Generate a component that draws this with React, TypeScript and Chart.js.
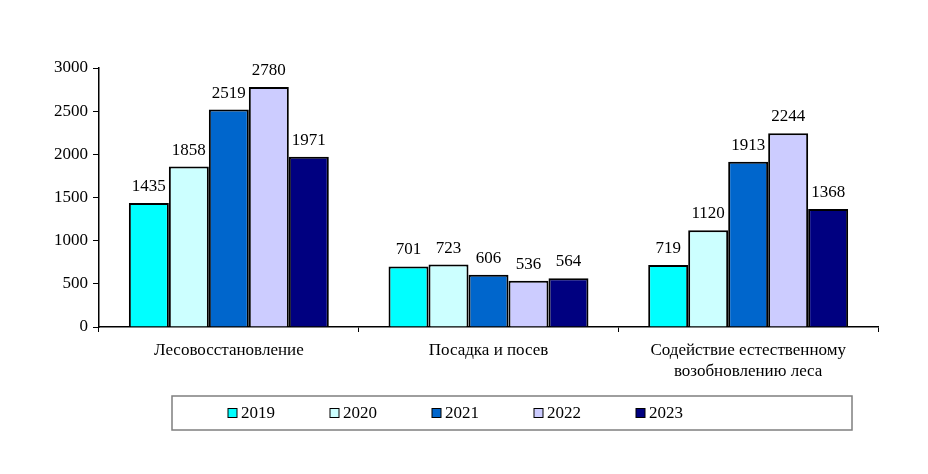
import React, { useEffect, useRef } from "react";
import { Chart, registerables } from "chart.js";

Chart.register(...registerables);

const categories: (string | string[])[] = [
  "Лесовосстановление",
  "Посадка и посев",
  ["Содействие естественному", "возобновлению леса"],
];
const years = ["2019", "2020", "2021", "2022", "2023"];
const values2019 = [1435, 701, 719];
const values2020 = [1858, 723, 1120];
const values2021 = [2519, 606, 1913];
const values2022 = [2780, 536, 2244];
const values2023 = [1971, 564, 1368];
const yTicks = [0, 500, 1000, 1500, 2000, 2500, 3000];

const seriesValues = [values2019, values2020, values2021, values2022, values2023];
const seriesColors = ["#00FFFF", "#CCFFFF", "#0066CC", "#CCCCFF", "#000080"];

const FONT = "'Liberation Serif', 'Times New Roman', serif";

const valueLabelPlugin = {
  id: "valueLabels",
  afterDatasetsDraw(chart: any) {
    const ctx = chart.ctx;
    ctx.save();
    ctx.font = `17px ${FONT}`;
    ctx.fillStyle = "#000";
    ctx.textAlign = "center";
    ctx.textBaseline = "alphabetic";
    chart.data.datasets.forEach((ds: any, i: number) => {
      const meta = chart.getDatasetMeta(i);
      meta.data.forEach((el: any, j: number) => {
        ctx.fillText(String(ds.data[j]), el.x, el.y - 12);
      });
    });
    ctx.restore();
  },
};

const boxLegendPlugin = {
  id: "boxLegend",
  afterDraw(chart: any) {
    const ctx = chart.ctx;
    const area = chart.chartArea;
    const boxLeft = area.left + 73;
    const boxRight = area.right - 26;
    const boxTop = area.bottom + 69;
    const boxH = 34;
    ctx.save();
    ctx.strokeStyle = "#7f7f7f";
    ctx.lineWidth = 1.5;
    ctx.strokeRect(boxLeft, boxTop, boxRight - boxLeft, boxH);
    ctx.font = `17px ${FONT}`;
    ctx.textBaseline = "middle";
    ctx.textAlign = "left";
    const startX = boxLeft + 56;
    const step = 102;
    const cy = boxTop + boxH / 2;
    chart.data.datasets.forEach((ds: any, i: number) => {
      const x = startX + i * step;
      ctx.fillStyle = ds.backgroundColor;
      ctx.fillRect(x, cy - 4.5, 9, 9);
      ctx.strokeStyle = "#000";
      ctx.lineWidth = 1;
      ctx.strokeRect(x, cy - 4.5, 9, 9);
      ctx.fillStyle = "#000";
      ctx.fillText(ds.label, x + 13, cy + 1);
    });
    ctx.restore();
  },
};

export default function App() {
  const ref = useRef<HTMLCanvasElement | null>(null);

  useEffect(() => {
    if (!ref.current) return;
    const chart = new Chart(ref.current, {
      type: "bar",
      data: {
        labels: categories as any,
        datasets: years.map((y, i) => ({
          label: y,
          data: seriesValues[i],
          backgroundColor: seriesColors[i],
          borderColor: "#000",
          borderWidth: 2,
          barPercentage: 1,
          categoryPercentage: 0.77,
        })),
      },
      options: {
        animation: false,
        responsive: false,
        maintainAspectRatio: false,
        layout: { padding: { left: 0, right: 50, top: 68, bottom: 87 } },
        plugins: {
          legend: { display: false },
          tooltip: { enabled: false },
        },
        scales: {
          x: {
            offset: true,
            grid: {
              offset: true,
              drawOnChartArea: false,
              drawTicks: true,
              tickLength: 5,
              color: "#000",
            },
            border: { color: "#000", width: 1.5 },
            ticks: {
              color: "#000",
              padding: 8,
              maxRotation: 0,
              autoSkip: false,
              font: { family: FONT, size: 17, lineHeight: 1.25 },
            },
            afterFit: (s: any) => {
              s.height = 60;
            },
          },
          y: {
            min: 0,
            max: 3000,
            afterBuildTicks: (s: any) => {
              s.ticks = yTicks.map((v) => ({ value: v }));
            },
            grid: {
              drawOnChartArea: false,
              drawTicks: true,
              tickLength: 6,
              color: "#000",
            },
            border: { color: "#000", width: 1.5 },
            ticks: {
              color: "#000",
              padding: 5,
              font: { family: FONT, size: 17 },
              callback: (v: any) => String(v),
            },
            afterFit: (s: any) => {
              s.width = 99;
            },
          },
        },
      },
      plugins: [valueLabelPlugin, boxLegendPlugin],
    });
    return () => chart.destroy();
  }, []);

  return (
    <div style={{ position: "fixed", left: 0, top: 0, width: 928, height: 474, background: "#fff" }}>
      <canvas ref={ref} width={928} height={474} style={{ width: 928, height: 474 }} />
    </div>
  );
}
